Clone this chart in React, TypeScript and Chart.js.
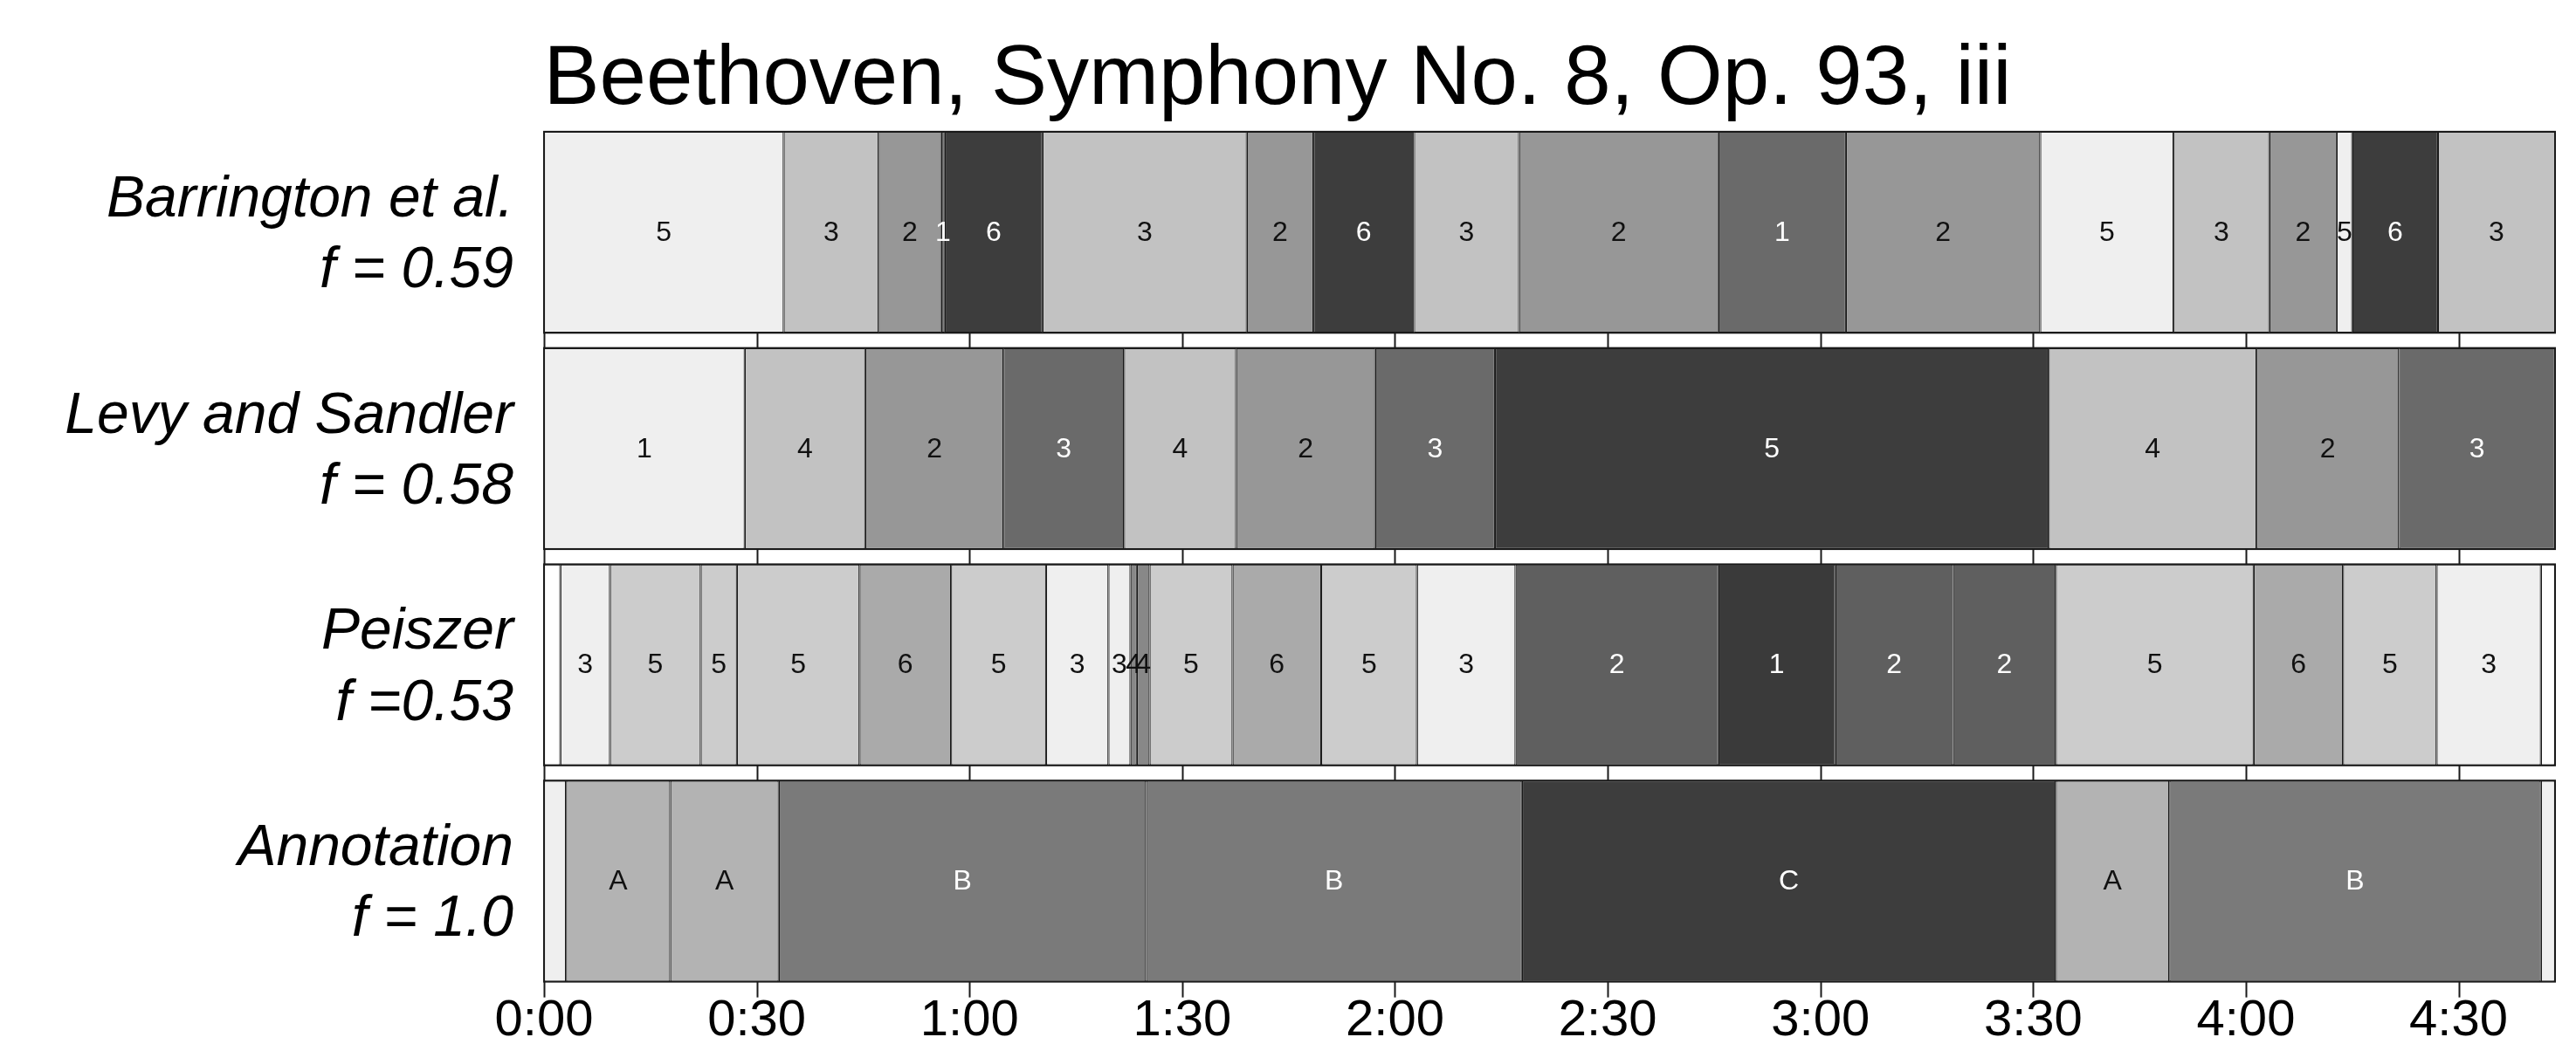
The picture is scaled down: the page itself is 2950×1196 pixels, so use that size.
import React, { useEffect, useRef } from "react";
import { Chart, registerables } from "chart.js";

Chart.register(...registerables);

// ---------------- data ----------------
const chartTitle = "Beethoven, Symphony No. 8, Op. 93, iii";
const totalSeconds = 283.6;

const rowNames = [
  ["Barrington et al.", "f = 0.59"],
  ["Levy and Sandler", "f = 0.58"],
  ["Peiszer", "f =0.53"],
  ["Annotation", "f = 1.0"],
];

// segment boundaries in seconds, and the label of each segment
const barringtonBounds = [0, 33.8, 47.2, 56.0, 56.5, 70.3, 99.1, 108.5, 122.7, 137.5, 165.6, 183.6, 211.0, 229.8, 243.3, 252.8, 255.0, 267.1, 283.6];
const barringtonLabels = ["5", "3", "2", "1", "6", "3", "2", "6", "3", "2", "1", "2", "5", "3", "2", "5", "6", "3"];

const levyBounds = [0, 28.3, 45.3, 64.8, 81.8, 97.6, 117.2, 134.1, 212.2, 241.5, 261.6, 283.6];
const levyLabels = ["1", "4", "2", "3", "4", "2", "3", "5", "4", "2", "3"];

const peiszerBounds = [0, 2.3, 9.3, 22.1, 27.2, 44.5, 57.4, 70.8, 79.6, 82.7, 83.6, 85.4, 97.1, 109.6, 123.1, 137.0, 165.6, 182.1, 198.7, 213.2, 241.1, 253.7, 266.9, 281.6, 283.6];
const peiszerLabels = ["", "3", "5", "5", "5", "6", "5", "3", "3", "4", "4", "5", "6", "5", "3", "2", "1", "2", "2", "5", "6", "5", "3", ""];

const annotationBounds = [0, 3.1, 17.8, 33.1, 84.9, 137.9, 213.2, 229.2, 281.6, 283.6];
const annotationLabels = ["", "A", "A", "B", "B", "C", "A", "B", ""];

const tickSeconds = [0, 30, 60, 90, 120, 150, 180, 210, 240, 270];
const tickLabels = ["0:00", "0:30", "1:00", "1:30", "2:00", "2:30", "3:00", "3:30", "4:00", "4:30"];

// ---------------- styles ----------------
const barringtonShades: Record<string, string> = { "1": "#6a6a6a", "2": "#979797", "3": "#c2c2c2", "5": "#efefef", "6": "#3d3d3d" };
const levyShades: Record<string, string> = { "1": "#efefef", "2": "#979797", "3": "#6a6a6a", "4": "#c2c2c2", "5": "#3d3d3d" };
const peiszerShades: Record<string, string> = { "": "#ffffff", "1": "#3a3a3a", "2": "#5f5f5f", "3": "#efefef", "4": "#888888", "5": "#cccccc", "6": "#aaaaaa" };
const annotationShades: Record<string, string> = { "": "#efefef", A: "#b3b3b3", B: "#7a7a7a", C: "#3d3d3d" };

const FONT = "'Liberation Sans', Arial, Helvetica, sans-serif";

function isDark(hex: string) {
  const v = parseInt(hex.slice(1, 3), 16);
  return v < 0x80;
}

const rows = [
  { bounds: barringtonBounds, labels: barringtonLabels, shades: barringtonShades },
  { bounds: levyBounds, labels: levyLabels, shades: levyShades },
  { bounds: peiszerBounds, labels: peiszerLabels, shades: peiszerShades },
  { bounds: annotationBounds, labels: annotationLabels, shades: annotationShades },
];

function buildDatasets() {
  const ds: any[] = [];
  rows.forEach((row, r) => {
    row.labels.forEach((lab, k) => {
      const shade = row.shades[lab];
      ds.push({
        label: `${rowNames[r][0]} ${k}`,
        data: rowNames.map((_, i) => (i === r ? [row.bounds[k], row.bounds[k + 1]] : null)),
        backgroundColor: shade,
        borderColor: "#1a1a1a",
        borderWidth: 1.25,
        borderSkipped: false,
        grouped: false,
        categoryPercentage: 1,
        barPercentage: 0.93,
        segLabel: lab,
        segTextColor: isDark(shade) ? "#ffffff" : "#111111",
        rowIndex: r,
      });
    });
  });
  return ds;
}

function rowExtents(chart: any) {
  const ext: { top: number; bottom: number }[] = [];
  chart.data.datasets.forEach((d: any, i: number) => {
    const el = chart.getDatasetMeta(i).data[d.rowIndex];
    if (el && !ext[d.rowIndex]) ext[d.rowIndex] = { top: el.y - el.height / 2, bottom: el.y + el.height / 2 };
  });
  return ext;
}

const segmentLabelPlugin = {
  id: "segmentLabels",
  afterDatasetsDraw(chart: any) {
    const ctx = chart.ctx;
    ctx.save();
    ctx.font = `32px ${FONT}`;
    ctx.textAlign = "center";
    ctx.textBaseline = "middle";
    chart.data.datasets.forEach((d: any, i: number) => {
      if (!d.segLabel) return;
      const el = chart.getDatasetMeta(i).data[d.rowIndex];
      if (!el) return;
      const cx = (el.x + el.base) / 2;
      ctx.fillStyle = d.segTextColor;
      ctx.fillText(d.segLabel, cx, el.y + 1);
    });
    ctx.restore();
  },
};

const frameAndTicksPlugin = {
  id: "frameAndTicks",
  afterDatasetsDraw(chart: any) {
    const ctx = chart.ctx;
    const xs = chart.scales.x;
    const ext = rowExtents(chart);
    const x0 = xs.getPixelForValue(0);
    const x1 = xs.getPixelForValue(totalSeconds);
    ctx.save();
    ctx.strokeStyle = "#1a1a1a";
    ctx.lineWidth = 2;
    ext.forEach((e) => {
      ctx.strokeRect(x0, e.top, x1 - x0, e.bottom - e.top);
      xs.ticks.forEach((t: any) => {
        const px = Math.round(xs.getPixelForValue(t.value)) + 0.5;
        ctx.beginPath();
        ctx.moveTo(px, e.bottom);
        ctx.lineTo(px, e.bottom + 18);
        ctx.stroke();
      });
    });
    ctx.restore();
  },
};

export default function App() {
  const ref = useRef<HTMLCanvasElement | null>(null);
  useEffect(() => {
    if (!ref.current) return;
    const chart = new Chart(ref.current, {
      type: "bar",
      data: {
        labels: rowNames as any,
        datasets: buildDatasets(),
      },
      options: {
        indexAxis: "y",
        animation: false,
        responsive: true,
        maintainAspectRatio: false,
        layout: { padding: { left: 0, right: 24, top: 0, bottom: 0 } },
        plugins: {
          legend: { display: false },
          tooltip: { enabled: false },
          title: {
            display: true,
            text: chartTitle,
            color: "#000",
            font: { family: FONT, size: 96, weight: "normal", lineHeight: 1 },
            padding: { top: 45, bottom: 1.2 },
          },
        },
        scales: {
          x: {
            type: "linear",
            position: "bottom",
            min: 0,
            max: totalSeconds,
            grid: { display: false, drawTicks: false },
            border: { display: false },
            afterBuildTicks: (scale: any) => {
              scale.ticks = tickSeconds.map((v) => ({ value: v }));
            },
            afterFit: (scale: any) => {
              scale.height = 62.7;
              scale.paddingLeft = 0;
              scale.paddingRight = 0;
            },
            ticks: {
              autoSkip: false,
              maxRotation: 0,
              color: "#000",
              padding: 8,
              font: { family: FONT, size: 58, lineHeight: 1 },
              callback: (_v: any, i: number) => tickLabels[i],
            },
          },
          y: {
            type: "category",
            offset: true,
            grid: { display: false, drawTicks: false },
            border: { display: false },
            afterFit: (scale: any) => {
              scale.width = 623;
              scale.paddingTop = 0;
              scale.paddingBottom = 0;
            },
            ticks: {
              color: "#000",
              padding: 35,
              labelOffset: 4,
              font: { family: FONT, size: 66, style: "italic", lineHeight: 1.23 },
            },
          },
        },
      } as any,
      plugins: [segmentLabelPlugin, frameAndTicksPlugin],
    });
    return () => chart.destroy();
  }, []);

  return (
    <div style={{ position: "absolute", left: 0, top: 0, width: 2950, height: 1196, background: "#fff" }}>
      <canvas ref={ref} />
    </div>
  );
}
